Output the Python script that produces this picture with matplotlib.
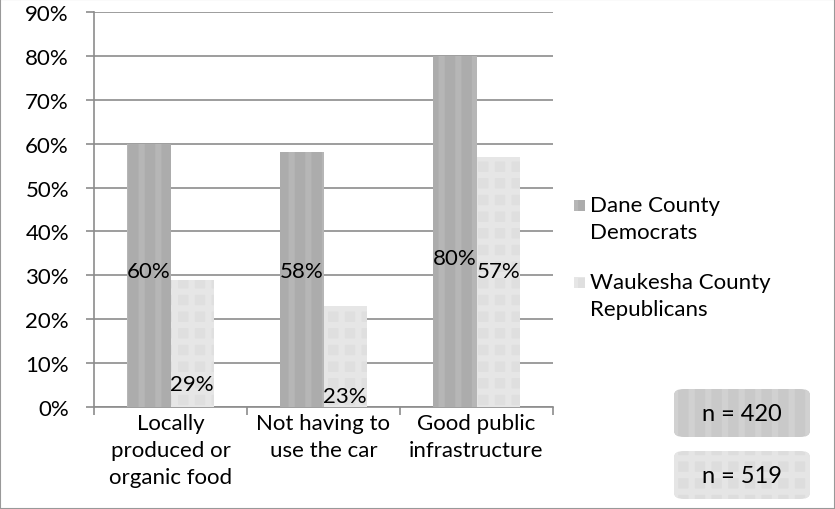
import matplotlib.pyplot as plt
import matplotlib.patches as mpatches
import numpy as np

# Data ------------------------------------------------------------------
categories = ["Locally\nproduced or\norganic food", "Not having to\nuse the car", "Good public\ninfrastructure"]
dane = [60, 58, 80]
waukesha = [29, 23, 57]
series_names = ["Dane County\nDemocrats", "Waukesha County\nRepublicans"]
sample_sizes = ["n = 420", "n = 519"]

# where the data labels sit (in % units, as placed in the original)
dane_label_y = [31, 31, 34]
wauk_label_y = [5.2, 2.5, 31]

plt.rcParams['font.family'] = ['Lato', 'DejaVu Sans']
plt.rcParams['hatch.linewidth'] = 4.5
FS = 16

W, H = 835, 510
fig = plt.figure(figsize=(8.35, 5.1), dpi=100)
ax = fig.add_axes([94 / W, 1 - 408 / H, (553 - 94) / W, (408 - 13) / H])

dark, dark_stripe = "#acacac", "#b6b6b6"
light, light_stripe = "#dfdfdf", "#e6e6e6"
grid_c = "#8c8c8c"

x = np.arange(len(categories))
w = 0.285
ax.bar(x - w / 2, dane, w, color=dark, edgecolor=dark_stripe, hatch="|", linewidth=0, zorder=3)
ax.bar(x + w / 2, waukesha, w, color=light, edgecolor=light_stripe, hatch="+", linewidth=0, zorder=3)

for i in range(len(categories)):
    ax.text(x[i] - w / 2, dane_label_y[i], f"{dane[i]}%", ha="center", va="center", fontsize=FS, zorder=4)
    ax.text(x[i] + w / 2, wauk_label_y[i], f"{waukesha[i]}%", ha="center", va="center", fontsize=FS, zorder=4)

ax.set_xlim(-0.5, 2.5)
ax.set_ylim(0, 90)
ax.set_yticks(range(0, 91, 10))
ax.set_yticklabels([f"{v}%" for v in range(0, 91, 10)], fontsize=FS)
ax.yaxis.grid(True, color=grid_c, linewidth=1.2, zorder=0)

ax.set_xticks([-0.5, 0.5, 1.5, 2.5])
ax.set_xticklabels([])
ax.set_xticks(x, minor=True)
ax.set_xticklabels(categories, minor=True, fontsize=FS, linespacing=1.45)
ax.tick_params(axis="x", which="minor", length=0, pad=4)
ax.tick_params(axis="x", which="major", length=6, color=grid_c, width=1.2)
ax.tick_params(axis="y", length=6, color=grid_c, width=1.2, pad=12)

for s in ["top", "right"]:
    ax.spines[s].set_visible(False)
for s in ["left", "bottom"]:
    ax.spines[s].set_color(grid_c)
    ax.spines[s].set_linewidth(1.2)

# Legend -----------------------------------------------------------------
leg_cols = [(dark, dark_stripe, "|"), (light, light_stripe, "+")]
leg_first_line = [206, 283]
for name, (fc, ec, ht), yl in zip(series_names, leg_cols, leg_first_line):
    fig.patches.append(mpatches.Rectangle((574 / W, 1 - (yl + 6) / H), 11 / W, 11 / H,
                                          transform=fig.transFigure, facecolor=fc,
                                          edgecolor=ec, hatch=ht, linewidth=0))
    fig.text(590 / W, 1 - (yl + 13.5) / H, name, ha="left", va="center", fontsize=FS,
             linespacing=1.45)

# Sample size boxes ------------------------------------------------------
box_cols = [("#c9c9c9", "#d1d1d1", "|"), ("#dddddd", "#e5e5e5", "+")]
box_tops = [390, 452]
for txt, (fc, ec, ht), top in zip(sample_sizes, box_cols, box_tops):
    bx = mpatches.FancyBboxPatch((674 / W, 1 - (top + 48) / H), 136 / W, 48 / H,
                                 boxstyle="round,pad=0,rounding_size=0.012",
                                 transform=fig.transFigure, facecolor=fc, edgecolor=ec,
                                 hatch=ht, linewidth=0)
    fig.patches.append(bx)
    fig.text(742 / W, 1 - (top + 25) / H, txt, ha="center", va="center", fontsize=FS + 1)

# outer border
fig.patches.append(mpatches.Rectangle((0, 0), 1, 1, transform=fig.transFigure, fill=False,
                                      edgecolor="#999999", linewidth=1.5))

fig.savefig("out.png", dpi=100)
